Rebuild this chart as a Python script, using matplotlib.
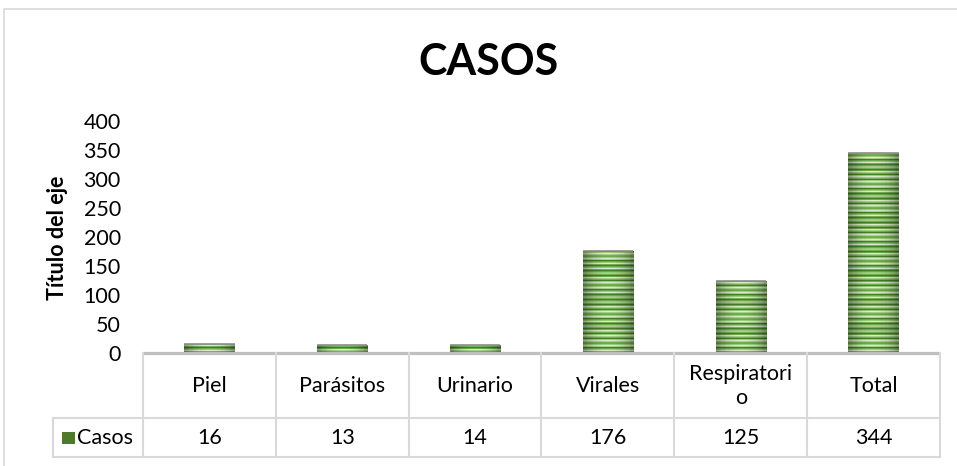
import numpy as np
import matplotlib
matplotlib.use('Agg')
import matplotlib.pyplot as plt
from matplotlib.patches import Rectangle
from matplotlib.transforms import blended_transform_factory

# ---- Data ------------------------------------------------------------
categories = ['Piel', 'Parásitos', 'Urinario', 'Virales', 'Respiratori\no', 'Total']
casos = [16, 13, 14, 176, 125, 344]
series_name = 'Casos'
yticks = [0, 50, 100, 150, 200, 250, 300, 350, 400]

W, H = 957, 466
FS = 15.5
plt.rcParams['font.family'] = ['Lato', 'DejaVu Sans']

fig = plt.figure(figsize=(W / 100, H / 100), dpi=100)


def fx(px):
    return px / W


def fy(py):
    return 1 - py / H


# plot area (pixel bounds)
L, R, T, B = 143, 940, 121, 353
ax = fig.add_axes([fx(L), fy(B), fx(R) - fx(L), fy(T) - fy(B)])
ax.set_xlim(-0.5, len(categories) - 0.5)
ax.set_ylim(0, 400)
ax.set_yticks(yticks)
ax.set_yticklabels([str(t) for t in yticks], fontsize=FS)
ax.tick_params(axis='y', length=0, pad=16)
ax.set_xticks([])
for s in ax.spines.values():
    s.set_visible(False)
ax.patch.set_alpha(0)

# striped green bars
bars = ax.bar(range(len(casos)), casos, width=0.38, color='none',
              edgecolor='none', zorder=2)
stripe = np.array([[0.28, 0.50, 0.16], [0.46, 0.70, 0.34], [0.66, 0.82, 0.55],
                   [0.86, 0.93, 0.80], [0.62, 0.80, 0.50], [0.44, 0.67, 0.31]])
px_per_unit = (B - T) / 400
for b in bars:
    h = b.get_height()
    n = max(2, int(round(h * px_per_unit / 0.8)))
    rows = stripe[np.arange(n) % len(stripe)]
    xs = np.linspace(-1, 1, 40)
    shade = 1 - 0.35 * xs ** 2
    img = np.clip(rows[:, None, :] * shade[None, :, None], 0, 1)
    x0, w = b.get_x(), b.get_width()
    im = ax.imshow(img, extent=(x0, x0 + w, 0, h), aspect='auto',
                   interpolation='nearest', zorder=2, origin='lower')
    im.set_clip_path(b)
    ax.plot([x0, x0 + w], [h, h], color='#8c8c8c', lw=1.2, zorder=3,
            solid_capstyle='butt')

# category axis line
ax.plot([-0.5, len(categories) - 0.5], [0, 0], color='#bfbfbf', lw=2.3,
        zorder=4, clip_on=False, solid_capstyle='butt')

# data table
line_c = '#d9d9d9'
tr = blended_transform_factory(ax.transData, fig.transFigure)
row1, row2 = 418, 457
for i in range(len(categories) + 1):
    xb = i - 0.5
    fig.lines.append(plt.Line2D([xb, xb], [fy(B), fy(row2)], transform=tr,
                                color=line_c, lw=1.5))
for yy in (row1, row2):
    fig.lines.append(plt.Line2D([fx(53), fx(R)], [fy(yy), fy(yy)],
                                transform=fig.transFigure, color=line_c, lw=1.5))
fig.lines.append(plt.Line2D([fx(53), fx(53)], [fy(row1), fy(row2)],
                            transform=fig.transFigure, color=line_c, lw=1.5))

for i, (cat, v) in enumerate(zip(categories, casos)):
    fig.text(i, fy((B + row1) / 2 + 1), cat, transform=tr, ha='center',
             va='center', fontsize=FS, linespacing=1.25)
    fig.text(i, fy((row1 + row2) / 2 + 1), str(v), transform=tr,
             ha='center', va='center', fontsize=FS)

# legend key in the table
fig.patches.append(Rectangle((fx(62), fy(444)), fx(13), fy(432) - fy(444),
                             transform=fig.transFigure, facecolor='#4f7a2c',
                             edgecolor='none'))
fig.text(fx(77), fy((row1 + row2) / 2 + 1), series_name, ha='left',
         va='center', fontsize=FS)

# titles
fig.text(fx(489), fy(62), 'CASOS', ha='center', va='center', fontsize=31,
         fontweight='bold')
fig.text(fx(57), fy(238), 'Título del eje', ha='center', va='center',
         rotation=90, fontsize=FS, fontweight='bold')

# chart border
fig.patches.append(Rectangle((fx(4), fy(H + 10)), fx(W + 10), fy(9) - fy(H + 10),
                             transform=fig.transFigure, facecolor='none',
                             edgecolor='#d9d9d9', lw=1.2))

fig.savefig('out.png', dpi=100)
